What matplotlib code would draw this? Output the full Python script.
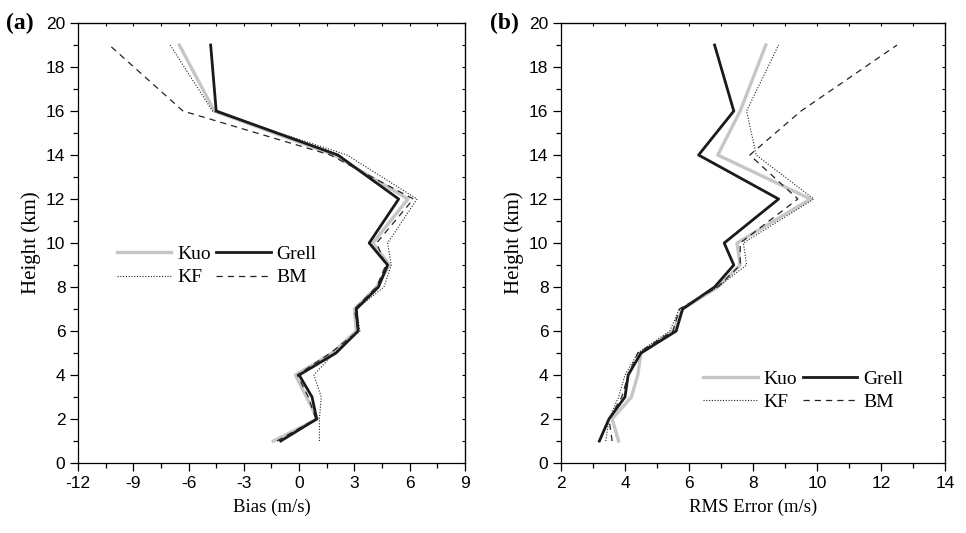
import numpy as np
import matplotlib.pyplot as plt
from matplotlib.ticker import MultipleLocator

# heights of the profile points (km)
height = [1, 2, 3, 4, 5, 6, 7, 8, 9, 10, 12, 14, 16, 19]

# (a) bias (m/s)
bias_kuo = [-1.4, 1.0, 0.4, -0.2, 1.8, 3.1, 3.0, 4.2, 4.9, 4.0, 5.9, 1.9, -4.6, -6.5]
bias_grell = [-1.0, 0.95, 0.7, 0.0, 2.0, 3.2, 3.1, 4.3, 4.8, 3.8, 5.4, 2.1, -4.5, -4.8]
bias_kf = [1.1, 1.1, 1.2, 0.8, 1.9, 3.3, 3.1, 4.6, 5.0, 4.8, 6.4, 2.6, -4.7, -7.0]
bias_bm = [-1.2, 0.9, 0.5, -0.1, 1.7, 3.2, 3.0, 4.2, 4.7, 4.2, 6.2, 1.7, -6.3, -10.3]

# (b) RMS error (m/s)
rms_kuo = [3.8, 3.6, 4.2, 4.4, 4.5, 5.5, 5.8, 6.9, 7.6, 7.5, 9.8, 6.9, 7.6, 8.4]
rms_grell = [3.2, 3.5, 4.0, 4.1, 4.5, 5.6, 5.8, 6.8, 7.4, 7.1, 8.8, 6.3, 7.4, 6.8]
rms_kf = [3.4, 3.5, 3.8, 4.0, 4.4, 5.4, 5.7, 6.9, 7.8, 7.7, 9.9, 8.1, 7.8, 8.8]
rms_bm = [3.6, 3.5, 3.9, 4.1, 4.4, 5.5, 5.7, 6.9, 7.6, 7.6, 9.4, 7.9, 9.5, 12.5]

names = ['Kuo', 'Grell', 'KF', 'BM']
styles = [dict(color='#c6c6c6', lw=2.4, ls='-'),
          dict(color='#1a1a1a', lw=2.0, ls='-'),
          dict(color='#222222', lw=0.8, ls=(0, (1, 1.5))),
          dict(color='#222222', lw=0.9, ls=(0, (5, 4)))]

serif = ['Liberation Serif', 'DejaVu Serif']
sans = ['Liberation Sans', 'DejaVu Sans']
plt.rcParams['font.family'] = sans
plt.rcParams['axes.unicode_minus'] = False


def draw(ax, series, xlim, xmaj, xmin, xlabel, tag, leg_anchor):
    lines = []
    for vals, name, st in zip(series, names, styles):
        lines += ax.plot(vals, height, label=name, **st)
    ax.set_xlim(*xlim)
    ax.set_ylim(0, 20)
    ax.xaxis.set_major_locator(MultipleLocator(xmaj))
    ax.xaxis.set_minor_locator(MultipleLocator(xmin))
    ax.yaxis.set_major_locator(MultipleLocator(2))
    ax.yaxis.set_minor_locator(MultipleLocator(1))
    ax.tick_params(which='major', direction='out', length=6, width=0.9,
                   labelsize=12.5, pad=3)
    ax.tick_params(which='minor', direction='out', length=3.5, width=0.9)
    for s in ax.spines.values():
        s.set_linewidth(0.9)
    # small inward ticks on top and right
    top = ax.secondary_xaxis('top')
    top.xaxis.set_major_locator(MultipleLocator(xmin))
    top.tick_params(direction='in', length=2.5, width=0.8, labeltop=False)
    right = ax.secondary_yaxis('right')
    right.yaxis.set_major_locator(MultipleLocator(1))
    right.tick_params(direction='in', length=2.5, width=0.8, labelright=False)
    ax.set_xlabel(xlabel, fontsize=13.5, family=serif, labelpad=6)
    ax.set_ylabel('Height (km)', fontsize=15, family=serif, labelpad=4)
    ax.text(-0.185, 1.0, tag, transform=ax.transAxes, fontsize=17,
            fontweight='bold', family=serif, va='center', ha='left')
    # row-wise order: Kuo, Grell / KF, BM
    order = [0, 2, 1, 3]
    ax.legend([lines[i] for i in order], [names[i] for i in order],
              ncol=2, frameon=False, loc='center left',
              bbox_to_anchor=leg_anchor, prop={'family': serif, 'size': 14},
              handlelength=2.8, handletextpad=0.3, columnspacing=0.3,
              labelspacing=0.3, borderaxespad=0)


fig = plt.figure(figsize=(9.66, 5.33), dpi=100)
ax1 = fig.add_axes([0.0807, 0.1313, 0.4007, 0.8255])
ax2 = fig.add_axes([0.5807, 0.1313, 0.3976, 0.8255])

draw(ax1, [bias_kuo, bias_grell, bias_kf, bias_bm], (-12, 9), 3, 1.5,
     'Bias (m/s)', '(a)', (0.08, 0.448))
draw(ax2, [rms_kuo, rms_grell, rms_kf, rms_bm], (2, 14), 2, 1,
     'RMS Error (m/s)', '(b)', (0.35, 0.165))

fig.savefig('out.png', dpi=100)
